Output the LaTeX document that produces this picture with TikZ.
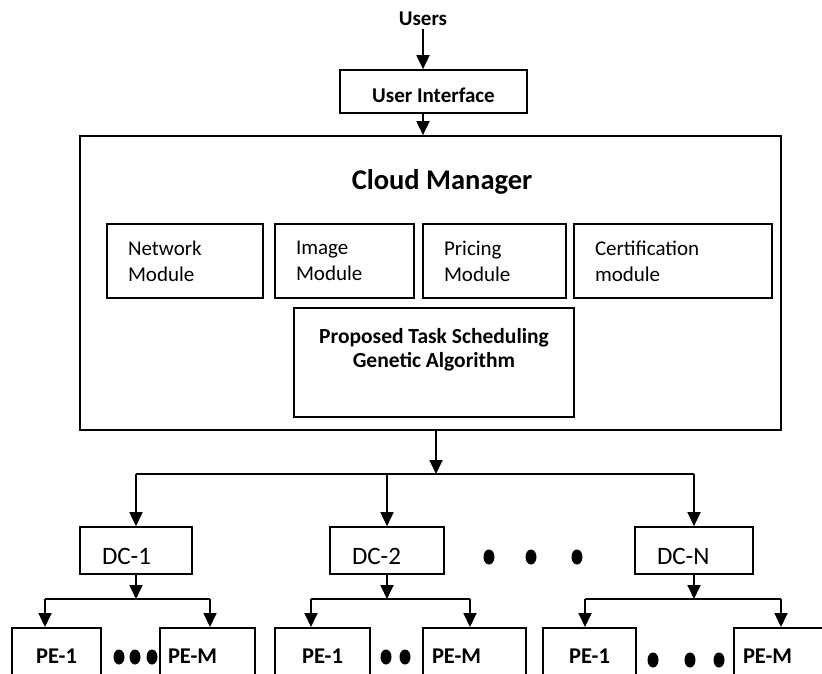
\documentclass[tikz,border=0pt]{standalone}
\usepackage{fontspec}
\setmainfont{Carlito}
\usetikzlibrary{arrows.meta}

\begin{document}
\begin{tikzpicture}[
  x=1pt, y=-1pt,
  >={Triangle[length=14pt,width=13pt]},
  box/.style={draw,line width=1.7pt,inner sep=0pt},
  bold/.style={font=\bfseries\fontsize{21}{24}\selectfont},
  modbox/.style={box,align=left,inner xsep=21pt,minimum height=74pt,
                 font=\fontsize{21}{26}\selectfont},
  dcbox/.style={box,align=left,inner xsep=22pt,minimum height=47pt,
                text height=27pt,text depth=0pt,
                font=\fontsize{25}{28}\selectfont},
  pebox/.style={box,anchor=north,minimum height=56pt,
                font=\bfseries\fontsize{22.5}{26}\selectfont},
  link/.style={->,line width=1.8pt},
  wire/.style={line width=1.8pt}]

\clip (0,0) rectangle (822,673);

% --- top: users, interface and the cloud manager ---
\node[bold,anchor=base] (users) at (423,25) {Users};
\node[box,bold,minimum width=187pt,minimum height=43pt,
      text height=21pt,text depth=0pt] (ui) at (433.5,91.5) {User Interface};
\node[box,minimum width=701pt,minimum height=294pt] (cm) at (430.5,283) {};
\node[anchor=base,font=\bfseries\fontsize{28.5}{32}\selectfont]
  (cmtitle) at (442,189) {Cloud Manager};

% modules inside the manager
\node[modbox,minimum width=156pt,text width=114pt] (net) at (185,261)
  {Network\\Module};
\node[modbox,minimum width=139pt,text width=97pt] (img) at (344.5,261)
  {Image\\Module};
\node[modbox,minimum width=143pt,text width=101pt] (prc) at (494.5,261)
  {Pricing\\Module};
\node[modbox,minimum width=198pt,text width=156pt] (crt) at (673,261)
  {Certification\\module};
\node[box,minimum width=280pt,minimum height=109pt,
      label={[font=\bfseries\fontsize{21.5}{24}\selectfont,
              align=center,anchor=north,yshift=-18pt]north:
        Proposed Task Scheduling\\Genetic Algorithm}] (ga) at (434,362.5) {};

\draw[link] (users) -- (users |- ui.north);
\draw[link] (users |- ui.south) -- (users |- cm.north);

% --- data centres ---
\node[dcbox,minimum width=112pt,text width=68pt] (dc1) at (136,550.5) {DC-1};
\node[dcbox,minimum width=114pt,text width=70pt] (dc2) at (387,550.5) {DC-2};
\node[dcbox,minimum width=118pt,text width=74pt] (dcn) at (694,550.5) {DC-N};

\coordinate (split) at (436,474);
\draw[link] (cm.south -| split) -- (split);
\draw[wire] (dc1.north |- split) -- (dcn.north |- split);
\foreach \d in {dc1,dc2,dcn}
  \draw[link] (\d.north |- split) -- (\d.north);

% --- processing elements (cut off at the bottom) ---
\node[pebox,minimum width=89pt] (pe11) at (56.5,627) {PE-1};
\node[pebox,minimum width=95pt,text width=79pt,inner xsep=8pt,align=left]
  (pe1m) at (207.5,627) {PE-M};
\node[pebox,minimum width=95pt] (pe21) at (322.5,627) {PE-1};
\node[pebox,minimum width=103pt,text width=85pt,inner xsep=9pt,align=left]
  (pe2m) at (474.5,627) {PE-M};
\node[pebox,minimum width=93pt] (pen1) at (589.5,627) {PE-1};
\node[pebox,minimum width=106pt,text width=88pt,inner xsep=9pt,align=left]
  (penm) at (787,627) {PE-M};

\foreach \d/\a/\b/\l/\r in {dc1/pe11/pe1m/45/210,
                            dc2/pe21/pe2m/311/470,
                            dcn/pen1/penm/585/781} {
  \draw[link] (\d.south) -- (\d.south |- 0,599);
  \draw[wire] (\l,599) -- (\r,599);
  \draw[link] (\l,599) -- (\l,0 |- \a.north);
  \draw[link] (\r,599) -- (\r,0 |- \b.north);
}

% ellipsis dots
\foreach \x/\y in {119/657,135/657,152/657,386/657,405/657,
                   653/660,690/660,719/660,489/557,531/557,577/557}
  \fill (\x,\y) ellipse [x radius=5.5pt,y radius=7.5pt];

\end{tikzpicture}
\end{document}
